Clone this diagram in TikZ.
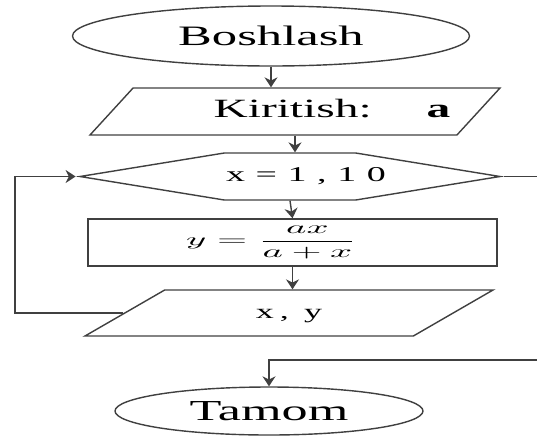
\documentclass[tikz,border=0pt]{standalone}
\usepackage{fontspec}
\newfontfamily\flowfont[FakeStretch=1.8]{Liberation Serif}
\usetikzlibrary{arrows.meta,positioning,shapes.geometric,shapes.symbols}

\begin{document}
\begin{tikzpicture}[>={Stealth[length=2mm,width=2.6mm]},
  base/.style={draw=black!75,thick,inner sep=0pt},
  term/.style={base,ellipse},
  io/.style={base,trapezium,trapezium stretches body,text depth=0.1cm},
  loopbox/.style={base,signal,signal to=west and east,signal pointer angle=18.5,
    text height=0.3cm,text depth=0.1cm,inner ysep=0.27cm},
  calcbox/.style={base,rectangle,minimum width=8.18cm,minimum height=0.94cm},
  line/.style={draw=black!75,thick}]
\useasboundingbox (0,0) rectangle (10.74,-8.74);
% blocks
\node[term,minimum width=7.94cm,minimum height=1.2cm,
  font=\flowfont\fontsize{16}{19}\selectfont] (start) at (5.42,-0.72) {Boshlash};
\node[io,trapezium left angle=47.5,trapezium right angle=132.5,
  minimum width=8.2cm,text height=0.34cm,inner ysep=0.25cm,
  font=\flowfont\fontsize{15}{18}\selectfont] (in) at (5.9,-2.23)
  {\makebox[0pt]{\hspace*{1.48cm}Kiritish:\hspace{1.1cm}\textbf{a}}};
\node[loopbox,minimum width=8.4cm,
  font=\flowfont\fontsize{12}{14}\selectfont\addfontfeature{LetterSpace=50}] (loop) at (5.8,-3.53)
  {\makebox[0pt]{\hspace*{0.64cm}x=1,10}};
\node[calcbox] (calc) at (5.85,-4.85)
  {\makebox[0pt]{\scalebox{2.2}[1]{$\displaystyle y=\frac{ax}{a+x}$}\hspace*{0.84cm}}};
\node[io,trapezium left angle=30,trapezium right angle=150,
  minimum width=8.16cm,text height=0.3cm,inner ysep=0.26cm,
  font=\flowfont\fontsize{11.4}{14}\selectfont\addfontfeature{LetterSpace=30}] (out) at (5.78,-6.26) {x, y};
\node[term,minimum width=6.16cm,minimum height=0.96cm,
  font=\flowfont\fontsize{16.5}{19}\selectfont] (end) at (5.38,-8.22) {Tamom};
% free ends of the loop lines
\coordinate (lft) at (0.3,-3.53);
\coordinate (rgt) at (10.74,-3.53);
\coordinate (rgt2) at (10.74,-7.2);
% connectors
\draw[line,->] (start.south) -- (start.south |- in.north);
\draw[line,->] (in.south) -- (in.south |- loop.north);
\draw[line,->] (loop.south) -- (calc.north);
\draw[line,->] (calc.south) -- (calc.south |- out.north);
\draw[line,->] (out.west) -| (lft) -- (loop.west);
\draw[line] (loop.east) -- (rgt);
\draw[line,->] (rgt2) -| (end.north);
\end{tikzpicture}
\end{document}
